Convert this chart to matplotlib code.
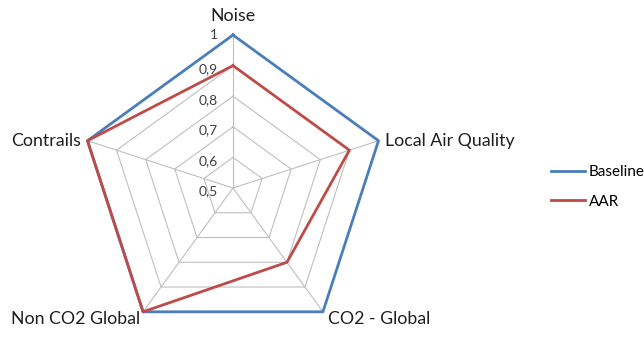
import numpy as np
import matplotlib.pyplot as plt
from matplotlib.lines import Line2D

categories = ["Noise", "Local Air Quality", "CO2 - Global", "Non CO2 Global", "Contrails"]
baseline = [1.0, 1.0, 1.0, 1.0, 1.0]
aar = [0.9, 0.9, 0.8, 1.0, 1.0]
ticks = [0.5, 0.6, 0.7, 0.8, 0.9, 1.0]
tick_labels = ["0,5", "0,6", "0,7", "0,8", "0,9", "1"]

BLUE = "#4A7EBB"
RED = "#BE4B48"
GRID = "#BFBFBF"
TEXT = "#1F1F1F"

plt.rcParams["font.family"] = ["Lato", "DejaVu Sans"]

fig = plt.figure(figsize=(6.44, 3.37), dpi=100)
ax = fig.add_axes([0.1242, -0.0119, 0.4752, 0.908], projection="polar")
ax.set_theta_offset(np.pi / 2)
ax.set_theta_direction(-1)
ax.set_ylim(0.5, 1.0)
ax.grid(False)
ax.spines["polar"].set_visible(False)
ax.set_xticks([])
ax.set_yticks([])
ax.patch.set_alpha(0)

n = len(categories)
angles = np.linspace(0, 2 * np.pi, n, endpoint=False)
closed = np.append(angles, angles[0])

# pentagon grid
for t in ticks[1:]:
    ax.plot(closed, [t] * (n + 1), color=GRID, lw=0.8, zorder=1)
for a in angles:
    ax.plot([a, a], [0.5, 1.0], color=GRID, lw=0.8, zorder=1)

ax.plot(closed, baseline + baseline[:1], color=BLUE, lw=2, zorder=3, clip_on=False)
ax.plot(closed, aar + aar[:1], color=RED, lw=2, zorder=4, clip_on=False)

# radial tick labels
for t, lab in zip(ticks, tick_labels):
    dy = 0 if t == 1.0 else -2.5
    ax.annotate(lab, xy=(0, t), xytext=(-11, dy), textcoords="offset points",
                ha="right", va="center", fontsize=10, color="#404040",
                annotation_clip=False)

# category labels
offsets = [(0, 14, "center", "center"), (5, 0, "left", "center"),
           (4, -5, "left", "center"), (-2, -5, "right", "center"),
           (-5, 0, "right", "center")]
for a, lab, (dx, dy, ha, va) in zip(angles, categories, offsets):
    ax.annotate(lab, xy=(a, 1.0), xytext=(dx, dy), textcoords="offset points",
                ha=ha, va=va, fontsize=12.8, color=TEXT, annotation_clip=False)

handles = [Line2D([], [], color=BLUE, lw=2), Line2D([], [], color=RED, lw=2)]
fig.legend(handles, ["Baseline", "AAR"], loc="center left",
           bbox_to_anchor=(0.835, 0.445), frameon=False, fontsize=11,
           handlelength=2.2, handletextpad=0.25, labelspacing=1.0)

fig.savefig("out.png", dpi=100)
